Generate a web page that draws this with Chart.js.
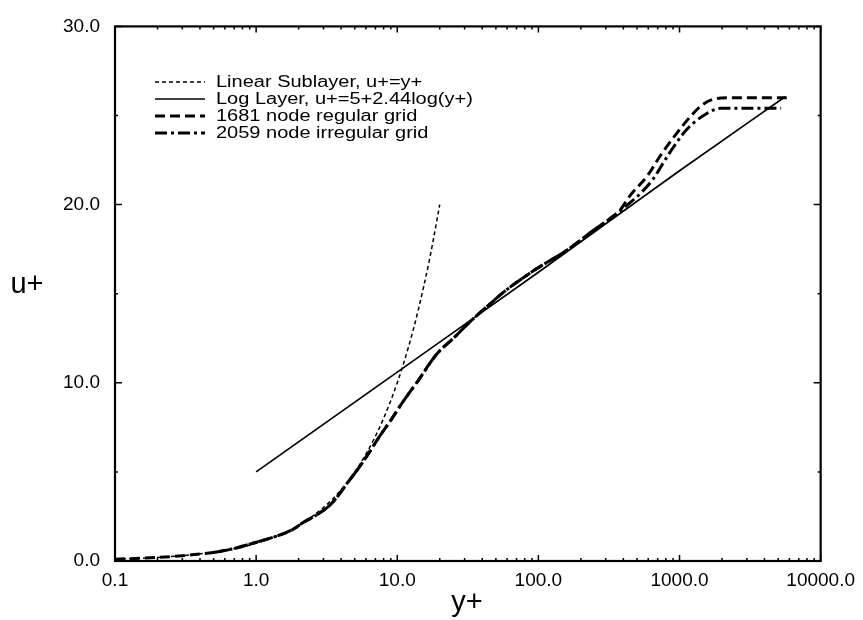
<!DOCTYPE html>
<html>
<head>
<meta charset="utf-8">
<script src="https://cdn.jsdelivr.net/npm/chart.js@4.4.1/dist/chart.umd.min.js"></script>
<style>
  html, body { margin: 0; padding: 0; background: #fff; }
  #wrap { width: 863px; height: 620px; }
</style>
</head>
<body>
<div id="wrap"><canvas id="c" width="863" height="620"></canvas></div>
<script>
// u+ vs y+ profile
const linearX = [0.1, 0.2, 0.3, 0.5, 0.7, 1, 1.5, 2, 3, 4, 5, 6, 7, 8, 10, 12, 14, 17, 20];
const linearU = [0.1, 0.2, 0.3, 0.5, 0.7, 1, 1.5, 2, 3, 4, 5, 6, 7, 8, 10, 12, 14, 17, 20];

const logX = [1, 10, 100, 1000, 5600];
const logU = [5.0, 10.6, 16.2, 21.9, 26.05];

const regularX = [0.1, 0.2, 0.3, 0.5, 0.7, 1.0, 1.4, 1.8, 2.2, 2.7, 3.3, 3.8, 4.4, 5.2, 6.1, 7.5, 9, 11, 14, 19, 25, 33, 45, 57, 75, 97, 160, 250, 320, 380, 446, 590, 725, 955, 1245, 1450, 1720, 2200, 5750];
const regularU = [0.1, 0.2, 0.3, 0.48, 0.7, 1.05, 1.4, 1.75, 2.2, 2.6, 3.1, 3.65, 4.35, 5.1, 5.9, 7.0, 7.9, 8.95, 10.1, 11.6, 12.5, 13.45, 14.4, 15.1, 15.8, 16.4, 17.45, 18.6, 19.2, 19.7, 20.5, 21.6, 22.7, 24.0, 25.1, 25.6, 25.9, 26.0, 26.0];

const irregularX = [0.5, 0.7, 1.0, 1.4, 1.8, 2.2, 2.7, 3.3, 3.8, 4.4, 5.2, 6.1, 7.5, 9, 11, 14, 19, 25, 33, 45, 57, 75, 97, 160, 250, 320, 400, 525, 645, 850, 1120, 1550, 1950, 5250];
const irregularU = [0.48, 0.7, 1.05, 1.4, 1.75, 2.2, 2.6, 3.1, 3.65, 4.35, 5.1, 5.9, 7.0, 7.9, 8.95, 10.1, 11.6, 12.5, 13.45, 14.4, 15.1, 15.8, 16.4, 17.45, 18.6, 19.2, 19.8, 20.6, 21.4, 22.9, 24.2, 25.1, 25.4, 25.4];

const xMajorTicks = [0.1, 1, 10, 100, 1000, 10000];
const yMajorTicks = [0, 10, 20, 30];
const yMinorTicks = [5, 15, 25];

const labels = [
  'Linear Sublayer, u+=y+',
  'Log Layer, u+=5+2.44log(y+)',
  '1681 node regular grid',
  '2059 node irregular grid'
];

const FONT = '"Liberation Sans", Arial, Helvetica, sans-serif';
const pts = (xs, ys) => xs.map((x, i) => ({ x: x, y: ys[i] }));

function lineSet(label, data, width, dash) {
  return {
    label: label,
    data: data,
    borderColor: '#000',
    borderWidth: width,
    borderDash: dash,
    pointRadius: 0,
    fill: false,
    cubicInterpolationMode: 'monotone'
  };
}

// frame, inward ticks on all four sides, axis titles
const framePlugin = {
  id: 'frame',
  afterDraw(chart) {
    const ctx = chart.ctx;
    const a = chart.chartArea;
    const xs = chart.scales.x, ys = chart.scales.y;
    ctx.save();
    ctx.strokeStyle = '#000';
    ctx.lineWidth = 1.5;
    ctx.beginPath();
    xMajorTicks.forEach((v, k) => {
      const px = xs.getPixelForValue(v);
      ctx.moveTo(px, a.bottom); ctx.lineTo(px, a.bottom - 6);
      ctx.moveTo(px, a.top); ctx.lineTo(px, a.top + 6);
      if (k < xMajorTicks.length - 1) {
        for (let m = 2; m <= 9; m++) {
          const pm = xs.getPixelForValue(v * m);
          ctx.moveTo(pm, a.bottom); ctx.lineTo(pm, a.bottom - 3);
          ctx.moveTo(pm, a.top); ctx.lineTo(pm, a.top + 3);
        }
      }
    });
    yMajorTicks.forEach(v => {
      const py = ys.getPixelForValue(v);
      ctx.moveTo(a.left, py); ctx.lineTo(a.left + 7, py);
      ctx.moveTo(a.right, py); ctx.lineTo(a.right - 7, py);
    });
    yMinorTicks.forEach(v => {
      const py = ys.getPixelForValue(v);
      ctx.moveTo(a.left, py); ctx.lineTo(a.left + 3, py);
      ctx.moveTo(a.right, py); ctx.lineTo(a.right - 3, py);
    });
    ctx.stroke();
    ctx.lineWidth = 2.2;
    ctx.strokeRect(a.left, a.top, a.right - a.left, a.bottom - a.top);

    ctx.fillStyle = '#000';
    ctx.font = '29px ' + FONT;
    ctx.textAlign = 'center';
    ctx.textBaseline = 'alphabetic';
    ctx.fillText('u+', 27, 293);
    ctx.fillText('y+', 467, 611);
    ctx.restore();
  }
};

// legend sits inside the plot, top left; the scan's type is wide, so stretch it a bit
const legendPlugin = {
  id: 'insideLegend',
  afterDatasetsDraw(chart) {
    const ctx = chart.ctx;
    const stretch = 1.25;
    chart.data.datasets.forEach((ds, i) => {
      const y = 82 + i * 17;
      ctx.save();
      ctx.strokeStyle = '#000';
      ctx.lineWidth = ds.borderWidth;
      ctx.setLineDash(ds.borderDash || []);
      ctx.beginPath();
      ctx.moveTo(155, y);
      ctx.lineTo(205, y);
      ctx.stroke();
      ctx.setLineDash([]);
      ctx.scale(stretch, 1);
      ctx.fillStyle = '#000';
      ctx.font = '16px ' + FONT;
      ctx.textAlign = 'left';
      ctx.textBaseline = 'middle';
      ctx.fillText(ds.label, 216 / stretch, y + 1);
      ctx.restore();
    });
  }
};

new Chart(document.getElementById('c').getContext('2d'), {
  type: 'line',
  data: {
    datasets: [
      lineSet(labels[0], pts(linearX, linearU), 1.5, [4, 3]),
      lineSet(labels[1], pts(logX, logU), 1.7, []),
      lineSet(labels[2], pts(regularX, regularU), 3, [10, 5]),
      lineSet(labels[3], pts(irregularX, irregularU), 3, [12, 4, 3, 4])
    ]
  },
  options: {
    responsive: false,
    animation: false,
    layout: { padding: { top: 19, right: 40, left: 0, bottom: 0 } },
    plugins: { legend: { display: false }, tooltip: { enabled: false } },
    scales: {
      x: {
        type: 'logarithmic',
        min: 0.1,
        max: 10000,
        afterBuildTicks: s => { s.ticks = xMajorTicks.map(v => ({ value: v })); },
        afterFit: s => { s.height = 59; },
        grid: { display: false, drawTicks: false },
        border: { display: false },
        ticks: {
          autoSkip: false,
          maxRotation: 0,
          padding: 8,
          color: '#000',
          font: { family: FONT, size: 19 },
          callback: v => Number(v).toFixed(1)
        }
      },
      y: {
        min: 0,
        max: 30,
        afterBuildTicks: s => { s.ticks = yMajorTicks.map(v => ({ value: v })); },
        afterFit: s => { s.width = 115; },
        grid: { display: false, drawTicks: false },
        border: { display: false },
        ticks: {
          padding: 15,
          color: '#000',
          font: { family: FONT, size: 19 },
          callback: v => Number(v).toFixed(1)
        }
      }
    }
  },
  plugins: [legendPlugin, framePlugin]
});
</script>
</body>
</html>
